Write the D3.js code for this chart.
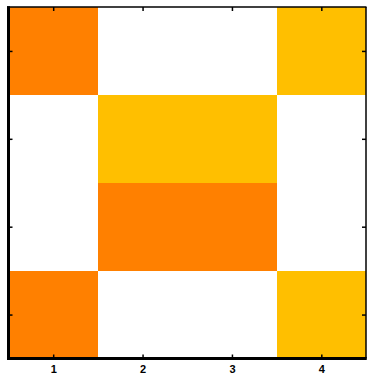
<!DOCTYPE html>
<html><head><meta charset="utf-8">
<script src="https://cdn.jsdelivr.net/npm/d3@7/dist/d3.min.js"></script>
<style>html,body{margin:0;padding:0;background:#fff;}svg{display:block;}</style>
</head><body>
<script>
const columns = [1, 2, 3, 4];
const rows = [1, 2, 3, 4]; // top to bottom
const xTickLabels = ["1", "2", "3", "4"];
// cell states: 0 = empty, 1 = orange, 2 = amber
const row1 = [1, 0, 0, 2];
const row2 = [0, 2, 2, 0];
const row3 = [0, 1, 1, 0];
const row4 = [1, 0, 0, 2];
const gridRows = [row1, row2, row3, row4];
const palette = ["#FFFFFF", "#FF8000", "#FFBF00"];

const W = 367, H = 381;
const L = 8.5, R = 366, T = 7, B = 358.5;

const svg = d3.select("body").append("svg").attr("width", W).attr("height", H);

const x = d3.scaleLinear().domain([0.5, 4.5]).range([L, R]);
const y = d3.scaleLinear().domain([0.5, 4.5]).range([T, B]);
const color = d3.scaleOrdinal().domain([0, 1, 2]).range(palette);

const cells = [];
gridRows.forEach((r, i) => r.forEach((v, j) => cells.push({col: columns[j], row: rows[i], v})));

svg.append("g").selectAll("rect").data(cells).join("rect")
  .attr("x", d => x(d.col - 0.5))
  .attr("y", d => y(d.row - 0.5))
  .attr("width", d => x(d.col + 0.5) - x(d.col - 0.5))
  .attr("height", d => y(d.row + 0.5) - y(d.row - 0.5))
  .attr("fill", d => color(d.v))
  .attr("shape-rendering", "crispEdges");

function styleAxis(g, w) {
  g.select(".domain").remove();
  g.selectAll(".tick line").attr("stroke", "#000").attr("stroke-width", 1.5);
}

// bottom
svg.append("g").attr("transform", `translate(0,${B})`)
  .call(d3.axisBottom(x).tickValues(columns).tickFormat((d, i) => xTickLabels[i]).tickSizeInner(-4).tickSizeOuter(0).tickPadding(7))
  .call(g => { styleAxis(g); g.selectAll("text").attr("font-family", "Liberation Sans, Arial, sans-serif").attr("font-size", 11).attr("font-weight", "bold").attr("fill", "#000"); });
// top
svg.append("g").attr("transform", `translate(0,${T})`)
  .call(d3.axisTop(x).tickValues(columns).tickFormat("").tickSizeInner(-4).tickSizeOuter(0))
  .call(styleAxis);
// left
svg.append("g").attr("transform", `translate(${L},0)`)
  .call(d3.axisLeft(y).tickValues(rows).tickFormat("").tickSizeInner(-4).tickSizeOuter(0))
  .call(styleAxis);
// right
svg.append("g").attr("transform", `translate(${R},0)`)
  .call(d3.axisRight(y).tickValues(rows).tickFormat("").tickSizeInner(-4).tickSizeOuter(0))
  .call(styleAxis);

// frame lines
svg.append("line").attr("x1", L - 1.5).attr("x2", R + 0.5).attr("y1", T).attr("y2", T).attr("stroke", "#000").attr("stroke-width", 1.5);
svg.append("line").attr("x1", R).attr("x2", R).attr("y1", T).attr("y2", B).attr("stroke", "#000").attr("stroke-width", 1.5);
svg.append("line").attr("x1", L).attr("x2", L).attr("y1", T - 0.75).attr("y2", B + 1.5).attr("stroke", "#000").attr("stroke-width", 3);
svg.append("line").attr("x1", L - 1.5).attr("x2", R + 0.75).attr("y1", B).attr("y2", B).attr("stroke", "#000").attr("stroke-width", 3);
</script>
</body></html>
